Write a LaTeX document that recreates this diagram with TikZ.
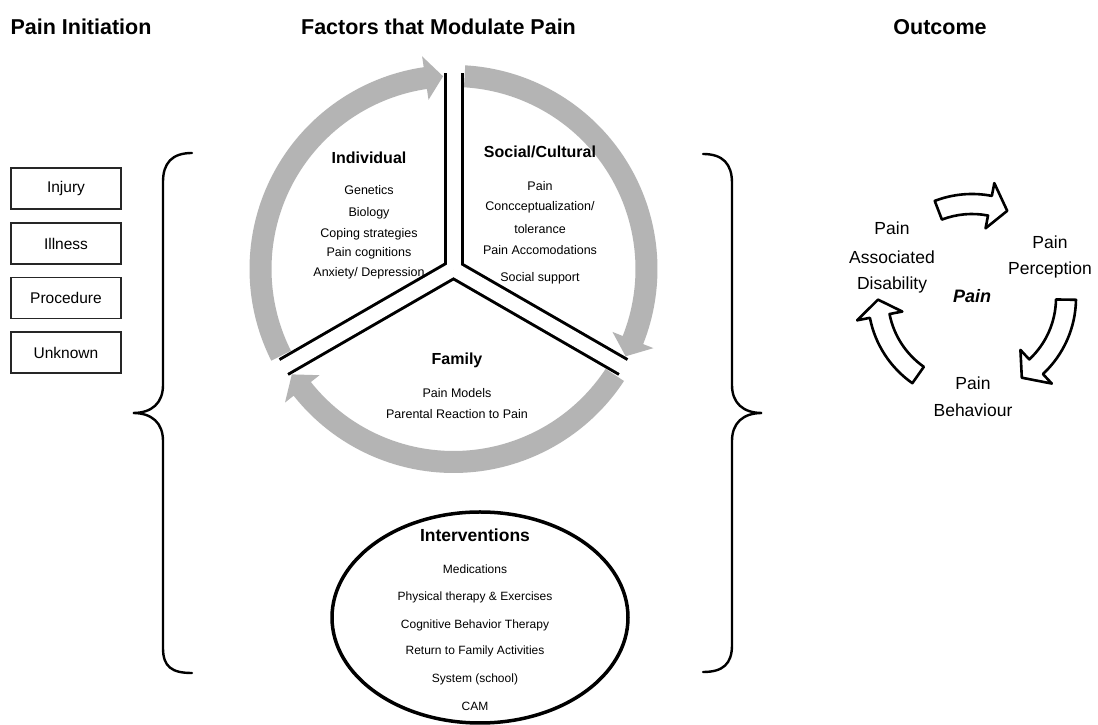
\documentclass[tikz,border=0pt]{standalone}
\usepackage{fontspec}
\setmainfont{Liberation Sans}
\definecolor{ringgray}{RGB}{180,180,180}
\newcommand{\fs}[1]{\fontsize{#1}{#1}\selectfont}
% ring arrow around C: start angle, head-base angle, tip angle
\newcommand\ringarrow[3]{%
 \fill[ringgray] ([shift={(C)}]#1:204) arc[start angle=#1, end angle=#2, radius=204]
   -- ([shift={(C)}]#2:215) -- ([shift={(C)}]#3:193) -- ([shift={(C)}]#2:171)
   -- ([shift={(C)}]#2:182) arc[start angle=#2, end angle=#1, radius=182] -- cycle;}
% block arrow around O
\newcommand\cyclearrow[3]{%
 \draw[blockarrow] ([shift={(O)}]#1:104) arc[start angle=#1, end angle=#2, radius=104]
   -- ([shift={(O)}]#2:117) -- ([shift={(O)}]#3:94) -- ([shift={(O)}]#2:71)
   -- ([shift={(O)}]#2:84) arc[start angle=#2, end angle=#1, radius=84] -- cycle;}
\begin{document}
\begin{tikzpicture}[x=1pt,y=1pt,
  ttl/.style={font=\fs{21.5}\bfseries, inner sep=0pt},
  boxtxt/.style={draw=black!85, line width=1.5pt, minimum width=110pt, minimum height=41pt, inner sep=0pt, font=\fs{15.5}},
  hdtxt/.style={font=\fs{16}\bfseries, inner sep=0pt},
  itm/.style={font=\fs{12.5}, inner sep=0pt},
  ivhd/.style={font=\fs{17.5}\bfseries, inner sep=0pt},
  ivitm/.style={font=\fs{12}, inner sep=0pt},
  outtxt/.style={font=\fs{17.5}, inner sep=0pt},
  bracepath/.style={line width=2.4pt, line cap=round},
  blockarrow/.style={draw=black, fill=white, line width=2.6pt, line join=round},
]
\path[fill=white] (0,0) rectangle (1098,725);
\useasboundingbox (0,0) rectangle (1098,725);

% titles
\node[ttl] (t1) at (81,698) {Pain Initiation};
\node[ttl] (t2) at (438.5,698) {Factors that Modulate Pain};
\node[ttl] (t3) at (940,698) {Outcome};

% initiation boxes
\node[boxtxt] (b1) at (66,536.5) {Injury};
\node[boxtxt] (b2) at (66,481.5) {Illness};
\node[boxtxt] (b3) at (66,427) {Procedure};
\node[boxtxt] (b4) at (66,372.5) {Unknown};

% braces
\draw[bracepath] (192,572) .. controls (172,572) and (163,562) .. (163,543) -- (163,340)
  .. controls (163,322) and (152,312) .. (133,312)
  .. controls (152,312) and (163,302) .. (163,284) -- (163,77)
  .. controls (163,58) and (172,52) .. (192,52);
\draw[bracepath] (703,571) .. controls (723,571) and (732,561) .. (732,542) -- (732,340)
  .. controls (732,322) and (743,312) .. (762,312)
  .. controls (743,312) and (732,302) .. (732,284) -- (732,80)
  .. controls (732,61) and (723,53) .. (703,53);

% central circle
\coordinate (C) at (453.5,456);
\ringarrow{206.7}{98.4}{93.1}
\ringarrow{86.7}{-21.6}{-26.9}
\ringarrow{-33.3}{-141.6}{-146.9}
\foreach \a in {90,210,330} \draw[line width=20pt] (C) -- ([shift={(C)}]\a:196);
\foreach \a in {90,210,330} \draw[white, line width=14pt] (C) -- ([shift={(C)}]\a:197);

% Individual
\node[hdtxt] (ind) at (369,567) {Individual};
\node[itm] (ind1) at (369,534.5) {Genetics};
\node[itm] (ind2) at (369,512) {Biology};
\node[itm] (ind3) at (369,491) {Coping strategies};
\node[itm] (ind4) at (369,472) {Pain cognitions};
\node[itm] (ind5) at (369,451.5) {Anxiety/ Depression};
% Social
\node[hdtxt] (soc) at (540,573) {Social/Cultural};
\node[itm] (soc1) at (540,539) {Pain};
\node[itm] (soc2) at (540,518) {Concceptualization/};
\node[itm] (soc3) at (540,496) {tolerance};
\node[itm] (soc4) at (540,475) {Pain Accomodations};
\node[itm] (soc5) at (540,447) {Social support};
% Family
\node[hdtxt] (fam) at (457,365) {Family};
\node[itm] (fam1) at (457,332) {Pain Models};
\node[itm] (fam2) at (457,311) {Parental Reaction to Pain};

% Interventions
\coordinate (iv) at (480,107.5);
\draw[line width=3.5pt] (iv) ellipse [x radius=148, y radius=105.5];
\node[ivhd] (ivh) at (475,190) {Interventions};
\node[ivitm] (iv1) at (475,156) {Medications};
\node[ivitm] (iv2) at (475,128) {Physical therapy \& Exercises};
\node[ivitm] (iv3) at (475,100) {Cognitive Behavior Therapy};
\node[ivitm] (iv4) at (475,74) {Return to Family Activities};
\node[ivitm] (iv5) at (475,46) {System (school)};
\node[ivitm] (iv6) at (475,19) {CAM};

% Outcome cycle
\coordinate (O) at (972,427);
\cyclearrow{111}{79}{68}
\cyclearrow{-1}{-47}{-58}
\cyclearrow{235}{191}{181}
\node[font=\fs{18}\bfseries\itshape, inner sep=0pt] (pain) at (972,429) {Pain};
\node[outtxt] (d1) at (892,497) {Pain};
\node[outtxt] (d2) at (892,468) {Associated};
\node[outtxt] (d3) at (892,440) {Disability};
\node[outtxt] (p1) at (1050,483) {Pain};
\node[outtxt] (p2) at (1050,455) {Perception};
\node[outtxt] (h1) at (973,342) {Pain};
\node[outtxt] (h2) at (973,315) {Behaviour};
\end{tikzpicture}
\end{document}
